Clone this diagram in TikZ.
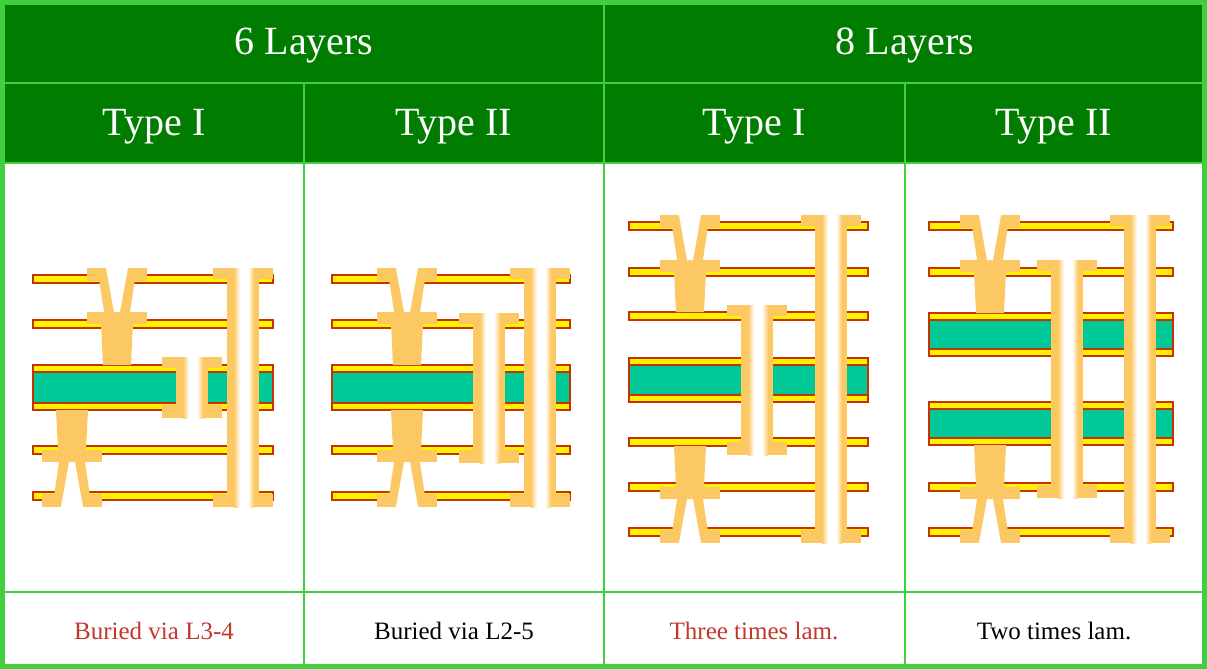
\documentclass[tikz,border=0pt]{standalone}
\usepackage{fontspec}
\setmainfont{Liberation Serif}
\begin{document}
\definecolor{hdr}{HTML}{007D00}
\definecolor{grd}{HTML}{3FCF3F}
\definecolor{orn}{HTML}{FCC864}
\definecolor{yel}{HTML}{FFF200}
\definecolor{cred}{HTML}{C83200}
\definecolor{cgrn}{HTML}{00C896}
\definecolor{captred}{HTML}{C0392B}
\newcommand{\cuL}[3]{\draw[cred,fill=yel,line width=1.2pt] (#1,#3-4) rectangle (#2,#3+4);}
\newcommand{\coreL}[4]{\draw[cred,fill=cgrn,line width=1.2pt] (#1,#3) rectangle (#2,#4);
 \draw[cred,fill=yel,line width=1.2pt] (#1,#3) rectangle (#2,#3+7);
 \draw[cred,fill=yel,line width=1.2pt] (#1,#4-7) rectangle (#2,#4);}
\newcommand{\vU}[3]{\fill[orn] (#1-30,#2-11) rectangle (#1+30,#2+2);
 \fill[orn] (#1-30,#3-12) rectangle (#1+30,#3);
 \fill[orn] (#1-18,#2) -- (#1+18,#2) -- (#1+12,#3-6) -- (#1-12,#3-6) -- cycle;
 \fill[white] (#1-11,#2-11) -- (#1+11,#2-11) -- (#1+3,#3-12) -- (#1-3,#3-12) -- cycle;}
\newcommand{\vD}[3]{\fill[orn] (#1-30,#2) rectangle (#1+30,#2+12);
 \fill[orn] (#1-30,#3-2) rectangle (#1+30,#3+11);
 \fill[orn] (#1-12,#2+6) -- (#1+12,#2+6) -- (#1+18,#3) -- (#1-18,#3) -- cycle;
 \fill[white] (#1-3,#2+12) -- (#1+3,#2+12) -- (#1+11,#3+11) -- (#1-11,#3+11) -- cycle;}
\newcommand{\plugL}[3]{\fill[orn] (#1-16,#2) -- (#1+16,#2) -- (#1+14,#3) -- (#1-14,#3) -- cycle;}
\newcommand{\pth}[3]{\fill[orn] (#1-30,#2) rectangle (#1+30,#2+11);
 \fill[orn] (#1-30,#3-13) rectangle (#1+30,#3);
 \fill[orn] (#1-16,#2) rectangle (#1+16,#3);
 \shade[left color=orn,right color=white] (#1-9,#2) rectangle (#1-3,#3);
 \fill[white] (#1-3.2,#2) rectangle (#1+5.2,#3);
 \shade[left color=white,right color=orn] (#1+5,#2) rectangle (#1+11,#3);}
\begin{tikzpicture}[x=1pt,y=-1pt,
  hd/.style={text=white,font=\fontsize{40}{44}\selectfont,anchor=center},
  captxt/.style={font=\fontsize{25}{28}\selectfont,anchor=center}]
\useasboundingbox (0,0) rectangle (1207,669);
\fill[white] (0,0) rectangle (1207,669);
\fill[hdr] (4,4) rectangle (1203,163);
\draw[grd,line width=1.5pt] (4,83) -- (1203,83) (4,163) -- (1203,163) (4,592) -- (1203,592);
\draw[grd,line width=1.5pt] (604,4) -- (604,665) (304,83) -- (304,665) (905,83) -- (905,665);
\draw[grd,line width=5pt] (2.5,2.5) rectangle (1204.5,666.5);
\node[hd] (h6) at (304,46) {6 Layers};
\node[hd] (h8) at (905,46) {8 Layers};
\node[hd] (t1) at (154,127) {Type I};
\node[hd] (t2) at (454,127) {Type II};
\node[hd] (t3) at (754,127) {Type I};
\node[hd] (t4) at (1054,127) {Type II};
\node[captxt,text=captred] (c1) at (154,631) {Buried via L3-4};
\node[captxt,text=black] (c2) at (454,631) {Buried via L2-5};
\node[captxt,text=captred] (c3) at (754,631) {Three times lam.};
\node[captxt,text=black] (c4) at (1054,631) {Two times lam.};
% panel 1
\cuL{33}{273}{279}\cuL{33}{273}{324}\coreL{33}{273}{365}{410}\cuL{33}{273}{450}\cuL{33}{273}{496}
\vU{117}{279}{324}\plugL{117}{324}{365}
\plugL{72}{410}{450}\vD{72}{450}{496}
\pth{192}{357}{418}
\pth{243}{268}{507}
% panel 2
\cuL{332}{570}{279}\cuL{332}{570}{324}\coreL{332}{570}{365}{410}\cuL{332}{570}{450}\cuL{332}{570}{496}
\vU{407}{279}{324}\plugL{407}{324}{365}
\plugL{407}{410}{450}\vD{407}{450}{496}
\pth{489}{313}{463}
\pth{540}{268}{507}
% panel 3
\cuL{629}{868}{226}\cuL{629}{868}{272}\cuL{629}{868}{316}\coreL{629}{868}{358}{402}
\cuL{629}{868}{442}\cuL{629}{868}{487}\cuL{629}{868}{532}
\vU{690}{226}{272}\plugL{690}{272}{312}
\plugL{690}{446}{487}\vD{690}{487}{532}
\pth{757}{305}{455}
\pth{831}{215}{543}
% panel 4
\cuL{929}{1173}{226}\cuL{929}{1173}{272}\coreL{929}{1173}{313}{356}\coreL{929}{1173}{402}{445}
\cuL{929}{1173}{487}\cuL{929}{1173}{532}
\vU{990}{226}{272}\plugL{990}{272}{313}
\plugL{990}{445}{487}\vD{990}{487}{532}
\pth{1067}{260}{498}
\pth{1140}{215}{543}
\end{tikzpicture}
\end{document}
